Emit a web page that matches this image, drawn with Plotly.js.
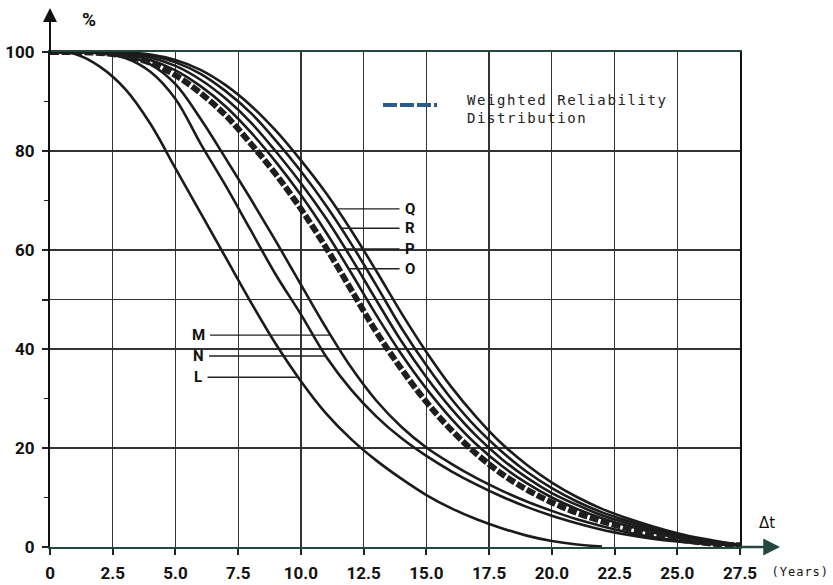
<!DOCTYPE html>
<html>
<head>
<meta charset="utf-8">
<script src="https://cdn.plot.ly/plotly-3.0.1.min.js"></script>
<style>
html,body{margin:0;padding:0;background:#fff;}
#chart{width:833px;height:585px;}
</style>
</head>
<body>
<div id="chart"></div>
<script>
// ---- data ----
const years = [0,1,2,3,4,5,6,7,8,9,10,11,12,13,14,15,16,17,18,19,20,21,22,23,24,25,26,27,27.5];
const yearsL = [0,1,2,3,4,5,6,7,8,9,10,11,12,13,14,15,16,17,18,19,20,21,22];
const curveL = [100,99.6,97,92.5,85.5,76.5,67.5,58.5,49.5,41,33.5,27,21.8,17.5,13.8,10.5,7.8,5.6,3.8,2.3,1.2,0.5,0.1];
const curveN = [100,100,99.7,98.8,96,90.5,81.5,73,64,55,47,38.5,31.8,26.4,22.0,18.4,15.3,12.6,10.2,8.1,6.3,4.8,3.5,2.5,1.7,1.1,0.65,0.4,0.3];
const curveM = [100,100,99.8,99.2,97.5,93.5,86.5,78.5,70.3,61.8,53,44.3,36.3,29.6,24.3,20.1,16.8,13.9,11.4,9.2,7.3,5.6,4.2,3.0,2.0,1.3,0.8,0.45,0.35];
const curveW = [100,100,99.8,99.2,97.8,95.3,91.7,87.2,81.5,75.3,68.3,60.5,52,43.5,36,29.3,23.6,18.8,14.8,11.6,9.0,6.9,5.2,3.8,2.6,1.6,0.9,0.45,0.35];
const curveO = [100,100,99.9,99.5,98.4,96.3,93.1,89.0,83.8,77.8,71.1,63.6,55.4,46.9,39,32,25.9,20.7,16.4,12.9,10.0,7.7,5.8,4.3,3.0,1.9,1.1,0.55,0.4];
const curveP = [100,100,99.95,99.7,98.9,97.2,94.4,90.6,85.8,79.9,73.5,66.4,58.4,49.9,41.6,34.3,27.9,22.4,17.8,14.0,10.9,8.5,6.4,4.8,3.4,2.2,1.3,0.6,0.4];
const curveR = [100,100,100,99.8,99.3,97.9,95.6,92.1,87.7,82.1,75.9,69.0,61.3,52.9,44.3,36.7,29.9,24.1,19.3,15.2,11.9,9.2,7.0,5.3,3.8,2.5,1.5,0.7,0.45];
const curveQ = [100,100,100,99.9,99.5,98.4,96.4,93.3,89.2,84.1,78.1,71.5,64.0,55.8,47.3,39.4,32.3,26.2,20.9,16.6,13.0,10.1,7.7,5.8,4.2,2.8,1.7,0.8,0.5];
const xTickVals = [0,2.5,5,7.5,10,12.5,15,17.5,20,22.5,25,27.5];
const xTickText = ["0","2.5","5.0","7.5","10.0","12.5","15.0","17.5","20.0","22.5","25.0","27.5"];
const yTickVals = [0,20,40,50,60,80,100];
const yTickText = ["0","20","40","","60","80","100"];
const yMinorVals = [10,30,70,90];
// curve labels and the level (%) at which each leader line meets its curve
const labelNames = ["M","N","L","Q","R","P","O"];
const labelLevels = [42.8,38.6,34.3,68.3,64.4,60.2,56.2];
const legendText = "Weighted Reliability<br>Distribution";

// ---- helpers ----
function crossing(xs, ys, v){
  for(let i=0;i<ys.length-1;i++){
    if((ys[i]-v)*(ys[i+1]-v)<=0 && ys[i]!==ys[i+1]){
      return xs[i] + (v-ys[i])*(xs[i+1]-xs[i])/(ys[i+1]-ys[i]);
    }
  }
  return null;
}
const curveFor = {M:[years,curveM],N:[years,curveN],L:[yearsL,curveL],Q:[years,curveQ],R:[years,curveR],P:[years,curveP],O:[years,curveO]};

const ink = '#1b1b1b';
const solid = (x,y,name)=>({x:x,y:y,name:name,type:'scatter',mode:'lines',showlegend:false,hoverinfo:'skip',
  line:{color:ink,width:2.6,shape:'spline',smoothing:1}});

const traces = [
  solid(yearsL,curveL,'L'),
  solid(years,curveN,'N'),
  solid(years,curveM,'M'),
  solid(years,curveQ,'Q'),
  solid(years,curveR,'R'),
  solid(years,curveP,'P'),
  solid(years,curveO,'O'),
  {x:years,y:curveW,name:'Weighted',type:'scatter',mode:'lines',showlegend:false,hoverinfo:'skip',
   line:{color:'#1e1e1e',width:6,dash:'9px,2.5px',shape:'spline',smoothing:1}}
];

const boldFam = 'Roboto, DejaVu Sans, sans-serif';
const labFont = {family:boldFam,size:15,color:'#111',weight:700};
const annotations = [];
labelNames.forEach((n,i)=>{
  const c = curveFor[n];
  const tEnd = crossing(c[0],c[1],labelLevels[i]);
  const left = (n==='M'||n==='N'||n==='L');
  const tText = left ? 5.9 : 14.35;
  annotations.push({x:tEnd,y:labelLevels[i],xref:'x',yref:'y',axref:'x',ayref:'y',ax:tText,ay:labelLevels[i],
    text:n,showarrow:true,arrowhead:0,arrowwidth:1.4,arrowcolor:'#222',standoff:0,borderpad:5,font:labFont});
});
// axis arrows
annotations.push({xref:'paper',yref:'paper',x:0,y:1.089,ax:0,ay:46,axref:'pixel',ayref:'pixel',text:'',showarrow:true,arrowhead:2,arrowsize:1.4,arrowwidth:2,arrowcolor:'#111'});
annotations.push({xref:'paper',yref:'paper',x:1.058,y:0,ax:-42,ay:0,axref:'pixel',ayref:'pixel',text:'',showarrow:true,arrowhead:2,arrowsize:1.4,arrowwidth:2.4,arrowcolor:'#24473f'});
// axis titles / units
annotations.push({xref:'paper',yref:'paper',x:0.056,y:1.066,xanchor:'center',yanchor:'middle',text:'%',showarrow:false,font:{family:boldFam,size:19,color:'#111',weight:700}});
annotations.push({xref:'paper',yref:'paper',x:1.039,y:0.048,xanchor:'center',yanchor:'middle',text:'\u0394t',showarrow:false,font:{family:'DejaVu Sans, sans-serif',size:15,color:'#111'}});
const yearsIdx = annotations.length;
annotations.push({xref:'paper',yref:'paper',x:1.087,y:-0.05,xanchor:'center',yanchor:'middle',text:'(Years)',showarrow:false,font:{family:'DejaVu Sans Mono, monospace',size:12,color:'#111'}});
// legend text
const legIdx = annotations.length;
annotations.push({xref:'paper',yref:'paper',x:0.601,y:0.885,xanchor:'left',yanchor:'middle',align:'left',text:legendText,showarrow:false,
  font:{family:'DejaVu Sans Mono, monospace',size:14,color:'#222'}});

const shapes = [
  // tinted grid lines of the original print
  {type:'line',xref:'paper',yref:'y',x0:0,x1:1,y0:60,y1:60,line:{color:'#4f8a4a',width:1.3},layer:'below'},
  {type:'line',xref:'paper',yref:'y',x0:0,x1:1,y0:80,y1:80,line:{color:'#4a5530',width:1.3},layer:'below'},
  // white ground behind the legend and the label areas (interrupts the grid as in the original)
  {type:'rect',xref:'paper',yref:'paper',x0:0.478,x1:0.9275,y0:0.826,y1:0.96,fillcolor:'#fff',line:{width:0},layer:'below'},
  {type:'rect',xref:'paper',yref:'paper',x0:0.191,x1:0.302,y0:0.386,y1:0.402,fillcolor:'#fff',line:{width:0},layer:'below'},
  {type:'rect',xref:'paper',yref:'paper',x0:0.38,x1:0.561,y0:0.592,y1:0.608,fillcolor:'#fff',line:{width:0},layer:'below'},
  {type:'line',xref:'paper',yref:'paper',x0:0.4826,x1:0.5609,y0:0.893,y1:0.893,line:{color:'#2c5a8a',width:4,dash:'14px,3px'}}
];

const tickFont = {family:boldFam,size:17,color:'#111',weight:700};
const layout = {
  width:833,height:585,
  margin:{l:50,r:93,t:52,b:38},
  paper_bgcolor:'#fff',plot_bgcolor:'#fff',
  showlegend:false,
  xaxis:{range:[0,27.5],tickvals:xTickVals,ticktext:xTickText,ticks:'outside',ticklen:6,tickwidth:2,tickcolor:'#222',
    ticklabelstandoff:3,
    showgrid:true,gridcolor:'#333',gridwidth:1.3,zeroline:false,showline:true,linecolor:'#24473f',linewidth:2.4,mirror:true,
    tickfont:tickFont,fixedrange:true},
  yaxis:{range:[0,100],tickvals:yTickVals,ticktext:yTickText,ticks:'outside',ticklen:6,tickwidth:2,tickcolor:'#222',
    ticklabelstandoff:4,
    showgrid:true,gridcolor:'#333',gridwidth:1.3,zeroline:false,showline:true,linecolor:'#111',linewidth:2,mirror:true,
    tickfont:tickFont,fixedrange:true,
    minor:{tickvals:yMinorVals,ticks:'outside',ticklen:4,tickwidth:1.5,tickcolor:'#222',showgrid:false}},
  annotations:annotations,
  shapes:shapes
};
Plotly.newPlot('chart',traces,layout,{staticPlot:true,displayModeBar:false}).then(function(gd){
  const lt = gd.querySelector('.annotation[data-index="'+legIdx+'"] .annotation-text');
  if(lt) lt.style.letterSpacing='1.6px';
  const yt = gd.querySelector('.annotation[data-index="'+yearsIdx+'"] .annotation-text');
  if(yt) yt.style.letterSpacing='1px';
});
</script>
</body>
</html>
